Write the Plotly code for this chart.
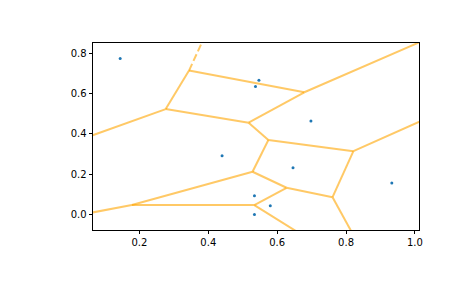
import numpy as np
from itertools import combinations
import plotly.graph_objects as go

# Seed points
point_x = [0.144, 0.440, 0.547, 0.537, 0.534, 0.580, 0.534, 0.698, 0.646, 0.933]
point_y = [0.775, 0.292, 0.667, 0.636, 0.093, 0.043, 0.000, 0.464, 0.232, 0.156]
x_ticks = [0.2, 0.4, 0.6, 0.8, 1.0]
y_ticks = [0.0, 0.2, 0.4, 0.6, 0.8]

pts = np.column_stack([point_x, point_y]).astype(float)
n = len(pts)

# --- Delaunay (brute force) -> Voronoi ---
centers = []
tri_pts = []
for i, j, k in combinations(range(n), 3):
    a, b, c = pts[i], pts[j], pts[k]
    d = 2 * (a[0] * (b[1] - c[1]) + b[0] * (c[1] - a[1]) + c[0] * (a[1] - b[1]))
    if abs(d) < 1e-14:
        continue
    aa, bb, cc = a @ a, b @ b, c @ c
    ux = (aa * (b[1] - c[1]) + bb * (c[1] - a[1]) + cc * (a[1] - b[1])) / d
    uy = (aa * (c[0] - b[0]) + bb * (a[0] - c[0]) + cc * (b[0] - a[0])) / d
    r2 = (a[0] - ux) ** 2 + (a[1] - uy) ** 2
    others = [m for m in range(n) if m not in (i, j, k)]
    dd = ((pts[others] - [ux, uy]) ** 2).sum(1)
    if np.all(dd > r2 - 1e-12):
        centers.append((ux, uy))
        tri_pts.append((i, j, k))
centers = np.array(centers)

edges = {}
for t, (i, j, k) in enumerate(tri_pts):
    for e in [(i, j), (j, k), (i, k)]:
        edges.setdefault(tuple(sorted(e)), []).append(t)

center = pts.mean(axis=0)
ptp_bound = np.ptp(pts, axis=0)
aspect_factor = abs(ptp_bound.max() / ptp_bound.min())

fx, fy, ix, iy = [], [], [], []
for (p0, p1), ts in edges.items():
    if len(ts) == 2:
        v0, v1 = centers[ts[0]], centers[ts[1]]
        fx += [v0[0], v1[0], None]
        fy += [v0[1], v1[1], None]
    else:
        v = centers[ts[0]]
        t = pts[p1] - pts[p0]
        t = t / np.linalg.norm(t)
        nrm = np.array([-t[1], t[0]])
        mid = pts[[p0, p1]].mean(axis=0)
        direction = np.sign(np.dot(mid - center, nrm)) * nrm
        far = v + direction * ptp_bound.max() * aspect_factor
        ix += [v[0], far[0], None]
        iy += [v[1], far[1], None]

margin = 0.1 * ptp_bound
xy_min = pts.min(axis=0) - margin
xy_max = pts.max(axis=0) + margin

line_col = "rgba(255,165,0,0.6)"
fig = go.Figure()
fig.add_trace(go.Scatter(x=point_x, y=point_y, mode="markers",
                         marker=dict(color="#1f77b4", size=3), showlegend=False))
fig.add_trace(go.Scatter(x=fx, y=fy, mode="lines",
                         line=dict(color=line_col, width=2), showlegend=False))
fig.add_trace(go.Scatter(x=ix, y=iy, mode="lines",
                         line=dict(color=line_col, width=2, dash="7.4px,3.2px"),
                         showlegend=False))

axis_common = dict(showgrid=False, zeroline=False, showline=True, linecolor="black",
                   linewidth=0.8, mirror=True, ticks="outside", ticklen=3.5,
                   tickwidth=0.8, tickcolor="black", tickformat=".1f",
                   tickfont=dict(family="DejaVu Sans", size=10, color="black"))
fig.update_xaxes(range=[xy_min[0], xy_max[0]], tickvals=x_ticks, **axis_common)
fig.update_yaxes(range=[xy_min[1], xy_max[1]], tickvals=y_ticks, **axis_common)
fig.update_layout(width=465, height=288, margin=dict(l=93, r=46, t=43, b=58),
                  plot_bgcolor="white", paper_bgcolor="white",
                  font=dict(family="DejaVu Sans", size=10, color="black"))
fig.write_html("out.html")
